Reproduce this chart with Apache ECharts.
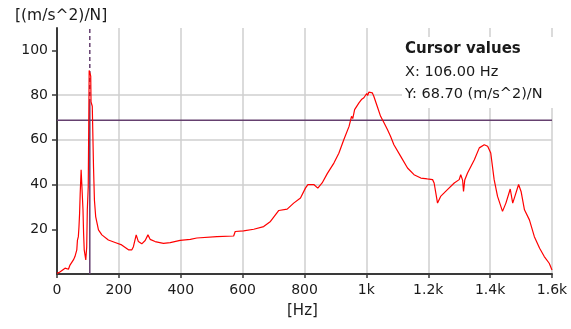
<!DOCTYPE html>
<html>
<head>
<meta charset="utf-8">
<script src="https://cdn.jsdelivr.net/npm/echarts@6/dist/echarts.min.js"></script>
<style>
html,body{margin:0;padding:0;background:#fff;}
#c{width:571px;height:329px;}
</style>
</head>
<body>
<div id="c"></div>
<script>
const freqs = [0,8,15,26,37,42,48,53,58,64,66,69,71,73,75,78,80,82,84,86,88,93,96,98,101,104,107,109,110,114,118,121,125,134,145,166,190,209,231,242,247,256,263,274,285,294,301,317,344,366,398,431,452,517,571,576,603,636,668,690,717,744,765,787,803,811,830,843,857,874,895,911,927,944,952,956,962,967,976,980,984,992,1001,1004,1008,1019,1024,1035,1046,1057,1068,1078,1089,1111,1133,1154,1176,1197,1214,1219,1230,1240,1262,1284,1300,1305,1311,1314,1318,1327,1349,1365,1381,1392,1402,1413,1424,1440,1451,1465,1473,1480,1492,1500,1511,1527,1543,1560,1575,1591,1600];
const amps = [0.3,0.8,1.5,2.6,2.1,4,4.5,6.3,7.8,10.8,15,16.7,21,27,36,46.6,40.7,41.4,28.7,18,10.8,6.3,12,28.7,39,91,90.7,88.5,77,75,48,33,25.7,19.7,17.5,15.2,14,13,10.8,10.8,12.2,17.5,14.5,13.5,15,17.5,15.5,14.5,13.7,14,15,15.5,16.1,16.7,17,19,19.3,20,21.2,23.5,28.4,29,31.7,34,38.4,40,40,38.4,40.7,45,49.6,54,60,66,70.5,69.5,73.5,72.8,76.5,76,78,78.8,80.7,79.8,81.3,81,79.5,75,70.5,67.6,64.6,61.6,57.8,52.6,47.4,44.4,42.9,42.5,42.2,40.7,31.7,34.7,37.7,40.7,42.2,44.4,42,36.9,42,45.2,51.1,56.4,57.8,57.1,54.1,42.2,34.7,28,31.7,38,31.7,34.7,40,36.9,28.7,24.2,16.7,11.5,7.8,4.8,1.8];
const xTickLabels = ['0','200','400','600','800','1k','1.2k','1.4k','1.6k'];
const yTickLabels = ['','20','40','60','80','100'];
const cursorX = 106;
const cursorY = 68.7;
const cursorCurveY = 76.5;
const xMax = 1600, yMax = 110;

const chart = echarts.init(document.getElementById('c'), null, {renderer:'canvas'});
const font = 'DejaVu Sans';
const purple = '#65406f';
chart.setOption({
  animation:false,
  backgroundColor:'#fff',
  grid:{left:57,right:19,top:28,bottom:55},
  xAxis:{type:'value',min:0,max:xMax,interval:200,
    axisLine:{lineStyle:{color:'#3a3a3a',width:2}},
    axisTick:{show:true,length:4,lineStyle:{color:'#3a3a3a',width:1.5}},
    axisLabel:{margin:9,color:'#1a1a1a',fontFamily:font,fontSize:14,
      formatter:v=>xTickLabels[Math.round(v/200)] ?? ''},
    splitLine:{show:true,showMinLine:false,lineStyle:{color:'#cfcfcf',width:1.5}}},
  yAxis:{type:'value',min:0,max:yMax,interval:20,
    axisLine:{show:true,lineStyle:{color:'#3a3a3a',width:2}},
    axisTick:{show:true,length:5,lineStyle:{color:'#3a3a3a',width:1.5},
      customValues:[20,40,60,80,100]},
    axisLabel:{margin:9,color:'#1a1a1a',fontFamily:font,fontSize:14,
      formatter:v=>{const i=Math.round(v/20); return (v%20===0 && yTickLabels[i])?yTickLabels[i]:'';}},
    splitLine:{show:true,showMinLine:false,showMaxLine:false,lineStyle:{color:'#cfcfcf',width:1.5}}},
  series:[
    {type:'line',data:[[0,cursorY],[xMax,cursorY]],symbol:'none',silent:true,
      lineStyle:{color:purple,width:1.5},z:2},
    {type:'line',data:[[cursorX,0],[cursorX,cursorCurveY]],symbol:'none',silent:true,
      lineStyle:{color:purple,width:1.5},z:2},
    {type:'line',data:[[cursorX,cursorCurveY],[cursorX,yMax]],symbol:'none',silent:true,
      lineStyle:{color:purple,width:1.5,type:[4,3]},z:2},
    {type:'line',data:freqs.map((f,i)=>[f,amps[i]]),symbol:'none',
      lineStyle:{color:'#ff0000',width:1.2},z:3}
  ],
  graphic:[
    {type:'text',left:15,top:8,style:{text:'[(m/s^2)/N]',font:'15.5px "DejaVu Sans"',fill:'#1a1a1a'}},
    {type:'text',left:287,top:304,style:{text:'[Hz]',font:'15px "DejaVu Sans"',fill:'#1a1a1a'}},
    {type:'rect',shape:{x:402,y:37,width:160,height:71},style:{fill:'#ffffff'},z:10},
    {type:'text',x:405,y:42,z:11,style:{text:'Cursor values',font:'bold 15px "DejaVu Sans"',fill:'#1a1a1a'}},
    {type:'text',x:405,y:65,z:11,style:{text:'X: 106.00 Hz',font:'14.5px "DejaVu Sans"',fill:'#1a1a1a'}},
    {type:'text',x:405,y:87,z:11,style:{text:'Y: 68.70 (m/s^2)/N',font:'14.5px "DejaVu Sans"',fill:'#1a1a1a'}}
  ]
});
</script>
</body>
</html>
